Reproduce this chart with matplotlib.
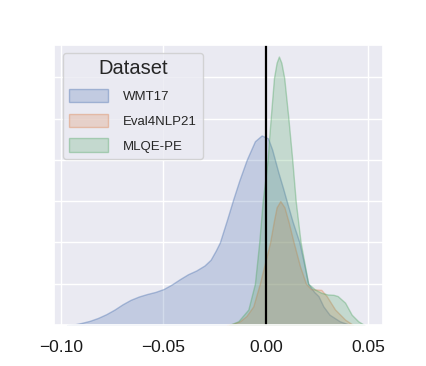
import matplotlib
matplotlib.use("Agg")
import matplotlib.pyplot as plt
import seaborn as sns
from matplotlib.patches import Patch

# density curves (x = score, y = density)
wmt17_x = [-0.097, -0.093, -0.090, -0.086, -0.082, -0.078, -0.074, -0.070, -0.066, -0.062,
           -0.058, -0.054, -0.050, -0.046, -0.042, -0.038, -0.034, -0.030, -0.027, -0.0245,
           -0.0225, -0.019, -0.016, -0.013, -0.0094, -0.0054, -0.0021, 0.001, 0.003, 0.006,
           0.0084, 0.0101, 0.013, 0.0163, 0.0185, 0.0206, 0.0235, 0.0256, 0.028, 0.031,
           0.036, 0.041]
wmt17_y = [0.0, 0.2, 0.5, 1.0, 1.7, 2.6, 3.7, 5.0, 6.1, 6.9,
           7.5, 8.0, 8.7, 9.8, 11.1, 12.3, 13.2, 14.4, 15.8, 18.0,
           20.0, 25.5, 30.4, 35.0, 40.0, 44.5, 45.9, 45.2, 42.5, 37.0,
           33.0, 30.0, 25.0, 20.0, 15.0, 10.0, 8.0, 7.0, 4.5, 2.5,
           0.9, 0.0]

eval4nlp_x = [-0.019, -0.016, -0.0127, -0.0095, -0.0062, -0.003, -0.0005, 0.002, 0.0038, 0.0052,
              0.007, 0.009, 0.011, 0.0135, 0.0166, 0.0195, 0.022, 0.0245, 0.027, 0.0296,
              0.0337, 0.0386, 0.0425]
eval4nlp_y = [0.0, 0.3, 0.9, 2.2, 4.5, 10.0, 15.0, 20.0, 25.0, 28.5,
              30.0, 28.5, 25.0, 20.0, 14.2, 10.0, 8.7, 8.6, 8.5, 7.0,
              3.75, 1.3, 0.0]

mlqe_x = [-0.018, -0.0135, -0.0086, -0.0054, -0.0033, -0.0016, 0.0008, 0.0015, 0.0023, 0.0039,
          0.0052, 0.0063, 0.0075, 0.0089, 0.0109, 0.0128, 0.0145, 0.0169, 0.0206, 0.0239,
          0.027, 0.030, 0.033, 0.035, 0.0386, 0.0418, 0.045, 0.048]
mlqe_y = [0.0, 0.9, 3.75, 10.0, 20.0, 30.0, 40.0, 45.0, 50.0, 59.8,
          63.5, 65.0, 63.5, 59.8, 50.2, 40.1, 30.0, 20.0, 10.0, 8.6,
          7.8, 7.4, 7.3, 7.0, 5.4, 2.5, 0.9, 0.0]

labels = ["WMT17", "Eval4NLP21", "MLQE-PE"]
colors = ["#4C72B0", "#DD8452", "#55A868"]
xticks = [-0.10, -0.05, 0.00, 0.05]

sns.set_theme(style="darkgrid")
plt.rcParams["font.family"] = ["Liberation Sans", "DejaVu Sans"]
plt.rcParams["axes.unicode_minus"] = True

fig = plt.figure(figsize=(4.27, 3.66), dpi=100)
ax = fig.add_axes([0.127, 0.112, 0.770, 0.765])

series = [(wmt17_x, wmt17_y), (eval4nlp_x, eval4nlp_y), (mlqe_x, mlqe_y)]
for (xs, ys), c in zip(series, colors):
    ax.fill_between(xs, ys, 0, facecolor=matplotlib.colors.to_rgba(c, 0.25),
                    edgecolor=matplotlib.colors.to_rgba(c, 0.4), linewidth=1.0)

ax.axvline(0, color="black", linewidth=1.6)

ax.set_xlim(-0.1033, 0.0571)
ax.set_ylim(0, 67.8)
ax.set_xticks(xticks)
ax.set_xticklabels([f"{t:.2f}".replace("-", "\u2212") for t in xticks], fontsize=12.5,
                   color="0.1")
ax.set_yticks(range(0, 70, 10))
ax.set_yticklabels([])
ax.tick_params(length=0)
ax.tick_params(axis="x", pad=11)
ax.set_xlabel("")
ax.set_ylabel("")

handles = [Patch(facecolor=matplotlib.colors.to_rgba(c, 0.25),
                 edgecolor=matplotlib.colors.to_rgba(c, 0.4), linewidth=1.0) for c in colors]
leg = ax.legend(handles, labels, title="Dataset", loc="upper left",
                bbox_to_anchor=(0.0265, 0.970), borderaxespad=0,
                fontsize=9.5, title_fontsize=14.5, handlelength=2.95, handleheight=1.2,
                handletextpad=1.15, labelspacing=0.8, borderpad=0.45)

fig.savefig("out.png", dpi=100)
